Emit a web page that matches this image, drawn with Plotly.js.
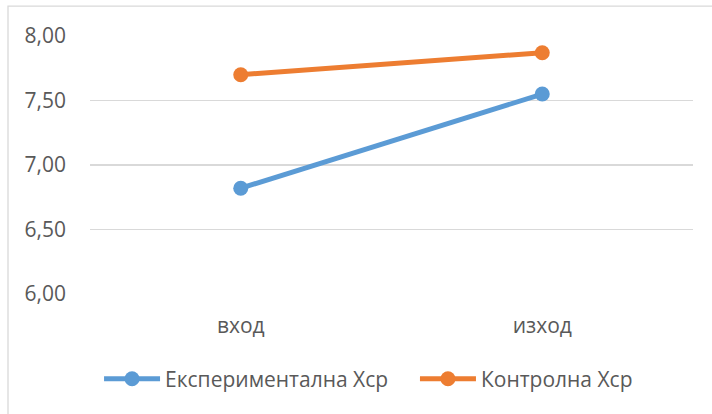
<!DOCTYPE html>
<html>
<head>
<meta charset="utf-8">
<script src="https://cdn.plot.ly/plotly-3.0.1.min.js"></script>
<style>
  html, body { margin: 0; padding: 0; background: #ffffff; }
  #chart { width: 712px; height: 414px; }
</style>
</head>
<body>
<div id="chart"></div>
<script>
// Average score (Хср) before and after, for the two groups
const stages = ['вход', 'изход'];
const experimentalGroup = [6.82, 7.55];
const controlGroup = [7.70, 7.87];
const seriesNames = ['Експериментална Хср', 'Контролна Хср'];
const yTickValues = [6.0, 6.5, 7.0, 7.5, 8.0];
const yTickLabels = ['6,00', '6,50', '7,00', '7,50', '8,00'];

const textColor = '#595959';
const gridColor = '#D9D9D9';
const fontFamily = '"Open Sans", "Noto Sans", sans-serif';
const fontSize = 21;
// extra room after the first legend entry (non-breaking spaces keep their width)
const legendPad = '\u00A0\u00A0\u00A0\u00A0';

const traces = [
  {
    x: stages,
    y: experimentalGroup,
    name: seriesNames[0] + legendPad,
    type: 'scatter',
    mode: 'lines+markers',
    line: { color: '#5B9BD5', width: 5 },
    marker: { color: '#5B9BD5', size: 15 }
  },
  {
    x: stages,
    y: controlGroup,
    name: seriesNames[1],
    type: 'scatter',
    mode: 'lines+markers',
    line: { color: '#ED7D31', width: 5 },
    marker: { color: '#ED7D31', size: 15 }
  }
];

const layout = {
  width: 712,
  height: 414,
  margin: { l: 90, r: 19, t: 36, b: 120 },
  paper_bgcolor: '#ffffff',
  plot_bgcolor: '#ffffff',
  font: { family: fontFamily, color: textColor, size: fontSize },
  showlegend: true,
  xaxis: {
    type: 'category',
    range: [-0.5, 1.5],
    showgrid: false,
    zeroline: false,
    showline: false,
    ticks: '',
    ticklabelstandoff: 17,
    tickfont: { family: fontFamily, color: textColor, size: fontSize },
    fixedrange: true
  },
  yaxis: {
    range: [6, 8],
    tickvals: yTickValues,
    ticktext: yTickLabels,
    showgrid: true,
    gridcolor: gridColor,
    gridwidth: 1.3,
    zeroline: false,
    showline: false,
    ticks: '',
    ticklabelstandoff: 23,
    tickfont: { family: fontFamily, color: textColor, size: fontSize },
    fixedrange: true
  },
  legend: {
    orientation: 'h',
    x: 0.015,
    xanchor: 'left',
    y: -0.33,
    yanchor: 'middle',
    itemwidth: 56,
    font: { family: fontFamily, color: textColor, size: fontSize },
    bgcolor: 'rgba(0,0,0,0)',
    itemclick: false,
    itemdoubleclick: false
  },
  shapes: [
    {
      type: 'rect',
      xref: 'paper',
      yref: 'paper',
      x0: -0.136,
      x1: 1.2,
      y0: -1.0,
      y1: 1.116,
      line: { color: gridColor, width: 1.3 },
      fillcolor: 'rgba(0,0,0,0)',
      layer: 'below'
    }
  ]
};

Plotly.newPlot('chart', traces, layout, { displayModeBar: false, staticPlot: true });
</script>
</body>
</html>
